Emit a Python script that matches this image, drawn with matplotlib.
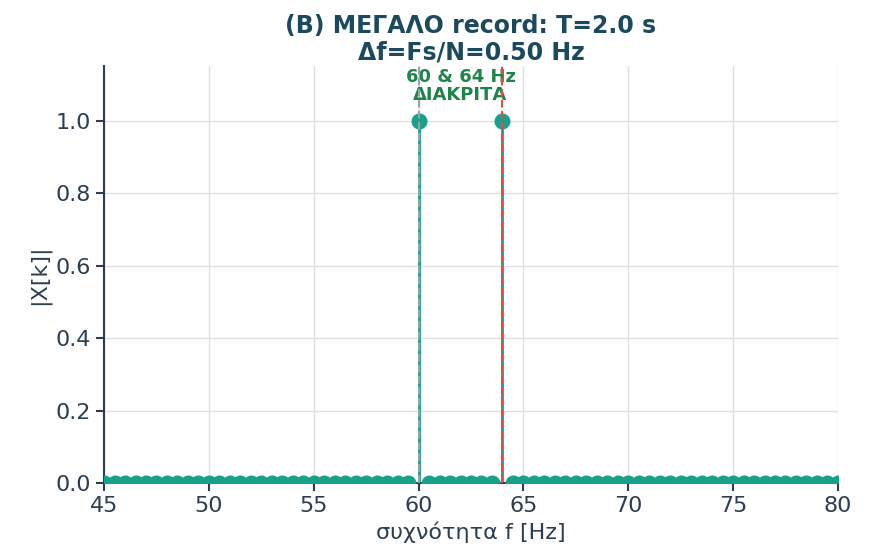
import matplotlib.pyplot as plt
import numpy as np

plt.rcParams['font.family'] = 'DejaVu Sans'

# Δεδομένα: FFT με ανάλυση 0.5 Hz
df = 0.5
f_start, f_stop = 44.0, 81.0
peak_freqs = [60.0, 64.0]
peak_vals = [1.0, 1.0]

freqs = np.arange(f_start, f_stop + df / 2, df)
mag = np.zeros_like(freqs)
for pf, pv in zip(peak_freqs, peak_vals):
    mag[np.isclose(freqs, pf)] = pv

teal = '#17a08a'
navy = '#2c3e50'

fig, ax = plt.subplots(figsize=(8.82, 5.52), dpi=100)
fig.subplots_adjust(left=0.118, right=0.95, top=0.88, bottom=0.125)

ml, sl, bl = ax.stem(freqs, mag)
plt.setp(ml, color=teal, markersize=10.5, zorder=3)
plt.setp(sl, color=teal, linewidth=2)
bl.set_visible(False)

ax.axvline(60, color='#95a5a6', linestyle='--', linewidth=1.5, zorder=4)
ax.axvline(64, color='#e74c3c', linestyle='--', linewidth=1.5, zorder=4)

ax.text(62, 1.045, '60 & 64 Hz\nΔΙΑΚΡΙΤΑ', color='#1e8449', fontsize=13,
        fontweight='bold', ha='center', va='bottom', linespacing=1.05)

ax.set_xlim(45, 80)
ax.set_ylim(0, 1.15)
ax.set_xlabel('συχνότητα f [Hz]', fontsize=16, color=navy)
ax.set_ylabel('|X[k]|', fontsize=16, color=navy)
ax.set_title('(B) ΜΕΓΑΛΟ record: T=2.0 s\nΔf=Fs/N=0.50 Hz', fontsize=17,
             fontweight='bold', color='#1a4a5c', linespacing=1.1, pad=5)

ax.grid(True, color='#e0e0e0', linewidth=1)
ax.set_axisbelow(True)
for s in ['top', 'right']:
    ax.spines[s].set_visible(False)
for s in ['left', 'bottom']:
    ax.spines[s].set_color(navy)
    ax.spines[s].set_linewidth(1.5)
ax.tick_params(labelsize=16, colors=navy, width=1.5, length=6)

fig.savefig('out.png', dpi=100)
